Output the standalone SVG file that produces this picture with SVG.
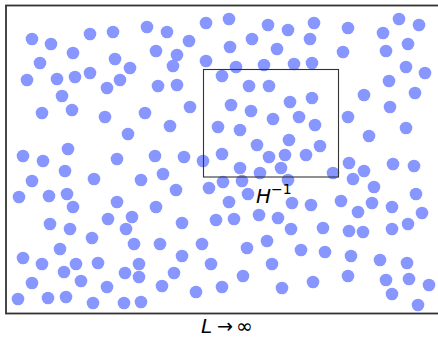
<svg xmlns="http://www.w3.org/2000/svg" width="438" height="338" viewBox="0 0 438 338">
<style>
.p{fill:#8896ff}
.frame{fill:none;stroke:#333;stroke-width:1.8}
.box{fill:none;stroke:#333;stroke-width:1.1}
.lbl{font-family:"DejaVu Sans","Liberation Sans",sans-serif;fill:#000}
</style>
<rect x="0" y="0" width="438" height="338" fill="#fff"/>
<g id="particles" class="p">
<circle cx="32" cy="39" r="6.3"/><circle cx="51" cy="44" r="6.3"/><circle cx="90" cy="34" r="6.3"/><circle cx="113" cy="32" r="6.3"/><circle cx="147" cy="27" r="6.3"/><circle cx="73" cy="53" r="6.3"/><circle cx="40" cy="63" r="6.3"/><circle cx="115" cy="59" r="6.3"/><circle cx="130" cy="68" r="6.3"/><circle cx="27" cy="80" r="6.3"/><circle cx="57" cy="79" r="6.3"/><circle cx="75" cy="77" r="6.3"/><circle cx="90" cy="73" r="6.3"/><circle cx="120" cy="80" r="6.3"/><circle cx="107" cy="88" r="6.3"/><circle cx="62" cy="96" r="6.3"/>
<circle cx="167" cy="32" r="6.3"/><circle cx="206" cy="23" r="6.3"/><circle cx="229" cy="19" r="6.3"/><circle cx="268" cy="25" r="6.3"/><circle cx="288" cy="30" r="6.3"/><circle cx="189" cy="41" r="6.3"/><circle cx="156" cy="51" r="6.3"/><circle cx="177" cy="55" r="6.3"/><circle cx="230" cy="47" r="6.3"/><circle cx="252" cy="39" r="6.3"/><circle cx="277" cy="49" r="6.3"/><circle cx="173" cy="66" r="6.3"/><circle cx="206" cy="61" r="6.3"/><circle cx="236" cy="67" r="6.3"/><circle cx="264" cy="65" r="6.3"/><circle cx="294" cy="64" r="6.3"/><circle cx="222" cy="76" r="6.3"/><circle cx="158" cy="86" r="6.3"/><circle cx="177" cy="85" r="6.3"/><circle cx="249" cy="86" r="6.3"/><circle cx="269" cy="86" r="6.3"/>
<circle cx="314" cy="23" r="6.3"/><circle cx="310" cy="39" r="6.3"/><circle cx="348" cy="28" r="6.3"/><circle cx="383" cy="33" r="6.3"/><circle cx="399" cy="19" r="6.3"/><circle cx="419" cy="25" r="6.3"/><circle cx="343" cy="52" r="6.3"/><circle cx="386" cy="51" r="6.3"/><circle cx="408" cy="44" r="6.3"/><circle cx="312" cy="63" r="6.3"/><circle cx="406" cy="67" r="6.3"/><circle cx="425" cy="73" r="6.3"/><circle cx="389" cy="81" r="6.3"/><circle cx="364" cy="95" r="6.3"/><circle cx="415" cy="93" r="6.3"/><circle cx="312" cy="98" r="6.3"/>
<circle cx="42" cy="113" r="6.3"/><circle cx="72" cy="110" r="6.3"/><circle cx="105" cy="117" r="6.3"/><circle cx="145" cy="113" r="6.3"/><circle cx="128" cy="134" r="6.3"/><circle cx="23" cy="156" r="6.3"/><circle cx="43" cy="161" r="6.3"/><circle cx="68" cy="149" r="6.3"/><circle cx="117" cy="159" r="6.3"/><circle cx="65" cy="171" r="6.3"/><circle cx="32" cy="181" r="6.3"/><circle cx="94" cy="179" r="6.3"/><circle cx="141" cy="180" r="6.3"/><circle cx="19" cy="197" r="6.3"/><circle cx="49" cy="196" r="6.3"/><circle cx="67" cy="194" r="6.3"/><circle cx="73" cy="207" r="6.3"/><circle cx="117" cy="202" r="6.3"/><circle cx="155" cy="156" r="6.3"/>
<circle cx="190" cy="107" r="6.3"/><circle cx="231" cy="105" r="6.3"/><circle cx="251" cy="111" r="6.3"/><circle cx="273" cy="119" r="6.3"/><circle cx="290" cy="102" r="6.3"/><circle cx="170" cy="126" r="6.3"/><circle cx="218" cy="127" r="6.3"/><circle cx="240" cy="130" r="6.3"/><circle cx="257" cy="145" r="6.3"/><circle cx="289" cy="140" r="6.3"/><circle cx="184" cy="157" r="6.3"/><circle cx="203" cy="161" r="6.3"/><circle cx="222" cy="154" r="6.3"/><circle cx="269" cy="157" r="6.3"/><circle cx="285" cy="155" r="6.3"/><circle cx="163" cy="174" r="6.3"/><circle cx="240" cy="168" r="6.3"/><circle cx="260" cy="173" r="6.3"/><circle cx="281" cy="168" r="6.3"/><circle cx="176" cy="190" r="6.3"/><circle cx="209" cy="188" r="6.3"/><circle cx="223" cy="182" r="6.3"/><circle cx="242" cy="181" r="6.3"/><circle cx="248" cy="194" r="6.3"/><circle cx="229" cy="202" r="6.3"/><circle cx="156" cy="207" r="6.3"/><circle cx="288" cy="180" r="6.3"/><circle cx="292" cy="203" r="6.3"/>
<circle cx="390" cy="107" r="6.3"/><circle cx="299" cy="117" r="6.3"/><circle cx="315" cy="125" r="6.3"/><circle cx="348" cy="117" r="6.3"/><circle cx="406" cy="128" r="6.3"/><circle cx="369" cy="136" r="6.3"/><circle cx="320" cy="146" r="6.3"/><circle cx="306" cy="155" r="6.3"/><circle cx="349" cy="163" r="6.3"/><circle cx="364" cy="171" r="6.3"/><circle cx="393" cy="164" r="6.3"/><circle cx="414" cy="166" r="6.3"/><circle cx="333" cy="173" r="6.3"/><circle cx="353" cy="179" r="6.3"/><circle cx="374" cy="187" r="6.3"/><circle cx="416" cy="194" r="6.3"/><circle cx="311" cy="205" r="6.3"/><circle cx="341" cy="201" r="6.3"/><circle cx="372" cy="203" r="6.3"/><circle cx="392" cy="207" r="6.3"/><circle cx="358" cy="212" r="6.3"/><circle cx="422" cy="213" r="6.3"/>
<circle cx="50" cy="224" r="6.3"/><circle cx="70" cy="229" r="6.3"/><circle cx="108" cy="219" r="6.3"/><circle cx="132" cy="217" r="6.3"/><circle cx="126" cy="229" r="6.3"/><circle cx="92" cy="238" r="6.3"/><circle cx="134" cy="244" r="6.3"/><circle cx="60" cy="249" r="6.3"/><circle cx="23" cy="258" r="6.3"/><circle cx="42" cy="264" r="6.3"/><circle cx="76" cy="264" r="6.3"/><circle cx="64" cy="272" r="6.3"/><circle cx="98" cy="263" r="6.3"/><circle cx="139" cy="264" r="6.3"/><circle cx="125" cy="273" r="6.3"/><circle cx="139" cy="277" r="6.3"/><circle cx="32" cy="283" r="6.3"/><circle cx="81" cy="281" r="6.3"/><circle cx="107" cy="287" r="6.3"/><circle cx="18" cy="299" r="6.3"/><circle cx="48" cy="298" r="6.3"/><circle cx="66" cy="297" r="6.3"/><circle cx="93" cy="303" r="6.3"/><circle cx="124" cy="303" r="6.3"/><circle cx="141" cy="302" r="6.3"/>
<circle cx="182" cy="223" r="6.3"/><circle cx="216" cy="220" r="6.3"/><circle cx="234" cy="219" r="6.3"/><circle cx="259" cy="215" r="6.3"/><circle cx="278" cy="218" r="6.3"/><circle cx="291" cy="229" r="6.3"/><circle cx="160" cy="244" r="6.3"/><circle cx="202" cy="244" r="6.3"/><circle cx="247" cy="248" r="6.3"/><circle cx="267" cy="241" r="6.3"/><circle cx="182" cy="256" r="6.3"/><circle cx="211" cy="264" r="6.3"/><circle cx="272" cy="264" r="6.3"/><circle cx="174" cy="273" r="6.3"/><circle cx="243" cy="276" r="6.3"/><circle cx="162" cy="286" r="6.3"/><circle cx="196" cy="292" r="6.3"/><circle cx="222" cy="287" r="6.3"/><circle cx="282" cy="288" r="6.3"/>
<circle cx="323" cy="228" r="6.3"/><circle cx="349" cy="231" r="6.3"/><circle cx="363" cy="232" r="6.3"/><circle cx="392" cy="229" r="6.3"/><circle cx="408" cy="224" r="6.3"/><circle cx="301" cy="250" r="6.3"/><circle cx="325" cy="252" r="6.3"/><circle cx="351" cy="256" r="6.3"/><circle cx="380" cy="260" r="6.3"/><circle cx="407" cy="263" r="6.3"/><circle cx="313" cy="282" r="6.3"/><circle cx="348" cy="276" r="6.3"/><circle cx="386" cy="280" r="6.3"/><circle cx="409" cy="279" r="6.3"/><circle cx="429" cy="285" r="6.3"/><circle cx="392" cy="294" r="6.3"/><circle cx="418" cy="305" r="6.3"/>
</g>
<rect id="frame" class="frame" x="6" y="5.5" width="440" height="308"/>
<rect id="window" class="box" x="203.5" y="69.5" width="135" height="107.5"/>
<text id="hinv" class="lbl" x="256" y="203" font-size="20"><tspan font-style="italic">H</tspan><tspan font-size="14" dy="-9">−1</tspan></text>
<g id="limit">
<text class="lbl" x="201" y="333" font-size="20" font-style="italic">L</text>
<text class="lbl" x="217" y="333" font-size="20" textLength="16" lengthAdjust="spacingAndGlyphs">→</text>
<text class="lbl" x="236" y="333" font-size="20">∞</text>
</g>
</svg>
